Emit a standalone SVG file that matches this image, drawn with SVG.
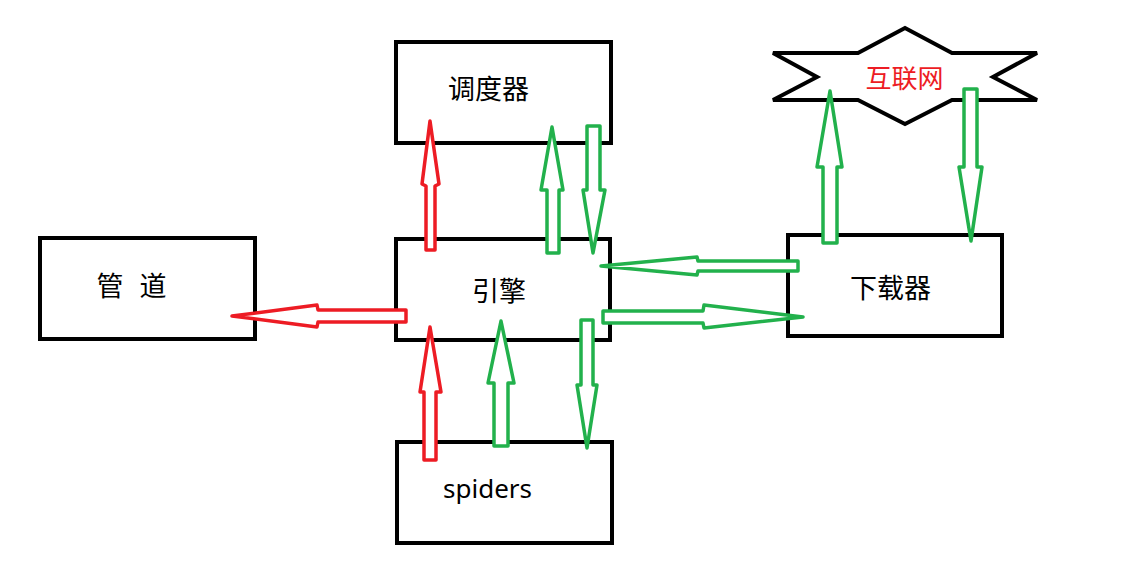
<svg xmlns="http://www.w3.org/2000/svg" width="1123" height="571" viewBox="0 0 1123 571">
<style>
.box{fill:#fff;stroke:#000;stroke-width:4}
.lbl{font-family:"Noto Sans CJK SC","Microsoft YaHei",sans-serif;font-size:27px;fill:#000;text-anchor:middle;dominant-baseline:central}
.r{fill:#fff;stroke:#ED1C24;stroke-width:3.5;stroke-linejoin:round}
.g{fill:#fff;stroke:#22B14C;stroke-width:3.5;stroke-linejoin:round}
</style>
<rect width="1123" height="571" fill="#fff"/>
<g id="scheduler"><rect class="box" x="396" y="42" width="215" height="101"/><text class="lbl" x="488.5" y="87">调度器</text></g>
<g id="engine"><rect class="box" x="396" y="239" width="214" height="101"/><text class="lbl" x="499" y="289">引擎</text></g>
<g id="pipeline"><rect class="box" x="40" y="238" width="215" height="101"/><text class="lbl" x="110" y="284">管</text><text class="lbl" x="153" y="284">道</text></g>
<g id="spiders"><rect class="box" x="397" y="442" width="215" height="101"/><text x="487.5" y="498" style="font-family:'Noto Sans',sans-serif;font-size:26px;text-anchor:middle">spiders</text></g>
<g id="downloader"><rect class="box" x="788" y="235" width="214" height="101"/><text class="lbl" x="890.5" y="286">下载器</text></g>
<g id="internet"><polygon class="box" points="905,28 952,53 1037,53 993,77 1037,100 952,100 905,124 858,100 773,100 817,77 773,53 858,53"/><text class="lbl" x="904.5" y="76" style="fill:#ED1C24;font-size:26px">互联网</text></g>
<g id="connectors">
<polygon class="r" points="430,121 439,184 435,186 435,250 426,250 426,186 422,184"/>
<polygon class="g" points="552,127 563,190 559,190 559,253 547,253 547,190 541,190"/>
<polygon class="g" points="587,126 600,126 600,190 605,190 593,253 583,190 587,190"/>
<polygon class="r" points="232,316 317,305 318,310 406,310 406,322 318,322 317,327"/>
<polygon class="g" points="601,266 697,257 698,261 798,261 798,271 698,271 697,275"/>
<polygon class="g" points="603,311 703,311 704,305 803,317 704,328 703,323 603,323"/>
<polygon class="r" points="430,327 441,392 436,392 436,460 424,460 424,392 420,392"/>
<polygon class="g" points="501,321 514,383 508,383 508,446 494,446 494,383 488,383"/>
<polygon class="g" points="581,320 593,320 593,385 597,385 587,448 577,385 581,385"/>
<polygon class="g" points="830,91 842,167 837,167 837,243 823,243 823,167 817,167"/>
<polygon class="g" points="964,89 977,89 977,167 982,167 971,241 959,167 964,167"/>
</g>
</svg>
